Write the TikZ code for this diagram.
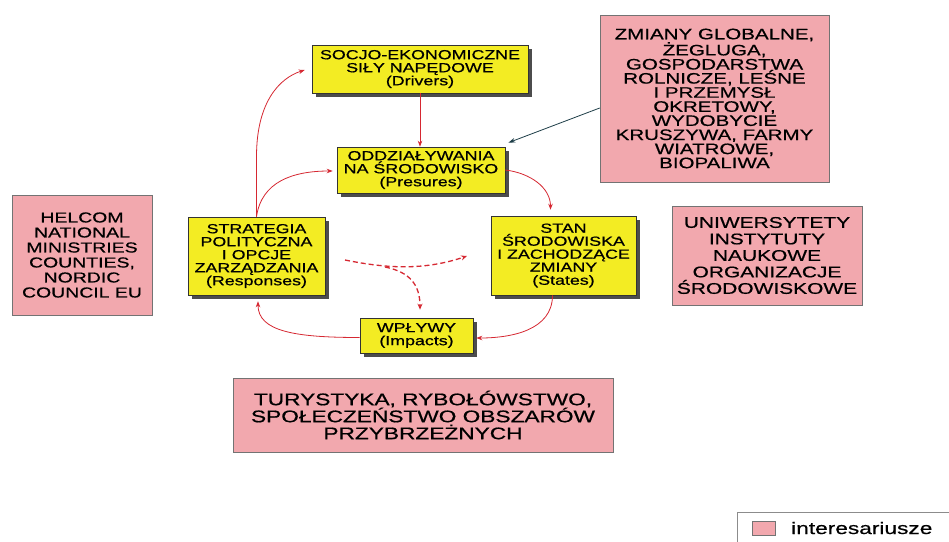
\documentclass[tikz,border=0pt]{standalone}
\usepackage{fontspec}
\setmainfont{Liberation Sans}
\newfontfamily\wideface[FakeStretch=1.35,FakeBold=0.6]{Liberation Sans}
\usetikzlibrary{arrows.meta,shadows,calc}
\definecolor{boxyellow}{RGB}{243,236,35}
\definecolor{boxpink}{RGB}{242,168,174}
\definecolor{linkred}{RGB}{214,40,50}
\definecolor{pointerteal}{RGB}{30,62,72}
\begin{document}
\begin{tikzpicture}[x=1pt,y=-1pt,
  ybox/.style={draw=black!80, line width=0.6pt, fill=boxyellow, align=center,
    inner sep=0pt, font=\wideface\fontsize{13.2}{13}\selectfont,
    drop shadow={shadow xshift=3.5pt, shadow yshift=-3.5pt, fill=black!70, opacity=1}},
  pbox/.style={draw=black!55, line width=0.6pt, fill=boxpink, align=center, inner sep=0pt},
  flow/.style={draw=linkred, line width=0.8pt, -{Stealth[length=6pt,width=4.5pt]}},
  dflow/.style={draw=linkred, line width=1.3pt, dash pattern=on 5pt off 3pt,
    -{Stealth[length=6pt,width=5pt]}},
  pointer/.style={draw=pointerteal, line width=0.8pt, -{Stealth[length=7pt,width=4.5pt]}}
]
\useasboundingbox (0,0) rectangle (949,541);
\fill[white] (0,0) rectangle (949,541);

% DPSIR cycle
\node[ybox, minimum width=216pt, minimum height=48pt] (drivers) at (420,69)
  {SOCJO-EKONOMICZNE\\SIŁY NAPĘDOWE\\(Drivers)};
\node[ybox, minimum width=168pt, minimum height=46pt] (press) at (421,170)
  {ODDZIAŁYWANIA\\NA ŚRODOWISKO\\(Presures)};
\node[ybox, minimum width=137pt, minimum height=78pt] (resp) at (256.5,256)
  {STRATEGIA\\POLITYCZNA\\I OPCJE\\ZARZĄDZANIA\\(Responses)};
\node[ybox, minimum width=145pt, minimum height=79pt] (states) at (563.5,255.5)
  {STAN\\ŚRODOWISKA\\I ZACHODZĄCE\\ZMIANY\\(States)};
\node[ybox, minimum width=113pt, minimum height=35pt] (impacts) at (416.5,335.5)
  {WPŁYWY\\(Impacts)};

% stakeholder groups
\node[pbox, minimum width=229pt, minimum height=167pt,
  font=\wideface\fontsize{15.2}{14.1}\selectfont] (global) at (714.5,98.5)
  {ZMIANY GLOBALNE,\\ŻEGLUGA,\\GOSPODARSTWA\\ROLNICZE, LEŚNE\\I PRZEMYSŁ\\OKRETOWY,\\WYDOBYCIE\\KRUSZYWA, FARMY\\WIATROWE,\\BIOPALIWA};
\node[pbox, minimum width=140pt, minimum height=120pt,
  font=\wideface\fontsize{14.4}{15}\selectfont] (helcom) at (82,255)
  {HELCOM\\NATIONAL\\MINISTRIES\\COUNTIES,\\NORDIC\\COUNCIL EU};
\node[pbox, minimum width=190pt, minimum height=99pt,
  font=\wideface\fontsize{15.5}{16.5}\selectfont] (univ) at (767,255.5)
  {UNIWERSYTETY\\INSTYTUTY\\NAUKOWE\\ORGANIZACJE\\ŚRODOWISKOWE};
\node[pbox, minimum width=380pt, minimum height=74pt,
  font=\wideface\fontsize{16.8}{17}\selectfont] (coast) at (423,415)
  {TURYSTYKA, RYBOŁÓWSTWO,\\SPOŁECZEŃSTWO OBSZARÓW\\PRZYBRZEŻNYCH};

% legend
\node[draw=black!45, line width=0.6pt, minimum width=230pt, minimum height=40pt,
  anchor=north west, inner sep=0pt] (legendbox) at (737,512) {};
\node[pbox, minimum width=23pt, minimum height=14pt] (swatch) at (763.5,528) {};
\node[anchor=west, inner sep=0pt, font=\wideface\fontsize{16.8}{17}\selectfont]
  (legendtext) at (791,528) {interesariusze};

% cycle connectors
\draw[flow] (drivers.south) -- (drivers.south |- press.north);
\draw[flow] (press.east) .. controls +(25,3) and +(0,-22) .. ($(states.north)+(-13,-6)$);
\draw[flow] ($(states.south)+(-11,0)$) .. controls +(0,35) and +(35,0) .. ($(impacts.east)+(3,2.5)$);
\draw[flow] ($(impacts.west)+(0,2)$) .. controls +(-65,0) and +(0,30) .. ($(resp.south)+(1.5,6)$);
\draw[flow] (resp.north) -- ++(0,-60) .. controls +(0,-55) and +(-25,8) .. ($(drivers.west)+(-7,1)$);
\draw[flow] (resp.north) .. controls +(5,-35) and +(-40,0) .. ($(press.west)+(-4,1)$);

% dashed feedback from the responses
\coordinate (dstart) at (345,260);
\coordinate (dsplit) at (385,267);
\coordinate (dend) at (467,256);
\draw[dflow] (dstart) .. controls (380,267) and (420,272) .. (dend);
\draw[dflow] (dsplit) .. controls (410,272) and (420,285) .. ($(impacts.north)+(3.5,-8)$);

% pressure sources
\draw[pointer] ($(global.west)+(0,9.5)$) -- ($(press.north east)+(3,-4)$);
\end{tikzpicture}
\end{document}
